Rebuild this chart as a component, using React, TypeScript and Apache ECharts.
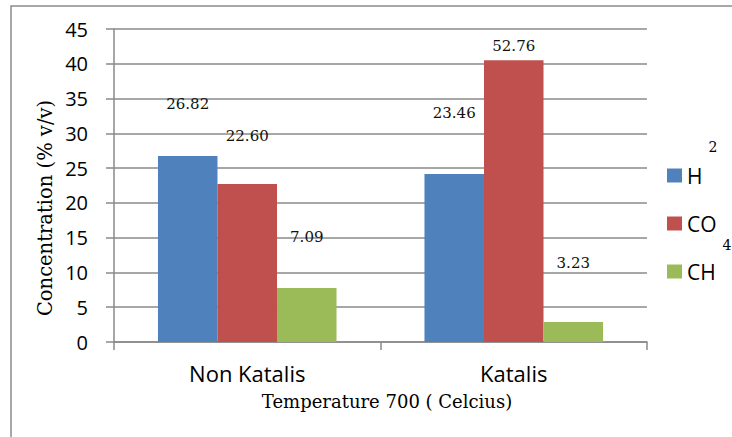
import React, { useEffect, useRef } from "react";
import * as echarts from "echarts";

const categories = ["Non Katalis", "Katalis"];
const seriesNames = ["H2", "CO", "CH4"];
const seriesColors = ["#4F81BD", "#C0504D", "#9BBB59"];

// bar heights
const h2Values = [26.74, 24.15];
const coValues = [22.7, 40.5];
const ch4Values = [7.76, 2.88];

// printed data labels and the level (in axis units) at which each sits
const h2Labels = ["26.82", "23.46"];
const coLabels = ["22.60", "52.76"];
const ch4Labels = ["7.09", "3.23"];
const h2LabelLevels = [34.2, 32.9];
const coLabelLevels = [29.6, 42.6];
const ch4LabelLevels = [15.1, 11.4];

const yMin = 0;
const yMax = 45;
const yInterval = 5;

const yTitle = "Concentration (% v/v)";
const xTitle = "Temperature 700 ( Celcius)";

const SERIF = "DejaVu Serif";
const SANS = "Open Sans";
const GRID_GRAY = "#8a8a8a";

export default function App() {
  const ref = useRef<HTMLDivElement>(null);

  useEffect(() => {
    if (!ref.current) return;
    const chart = echarts.init(ref.current, undefined, { renderer: "svg" });

    const values = [h2Values, coValues, ch4Values];
    const labels = [h2Labels, coLabels, ch4Labels];
    const levels = [h2LabelLevels, coLabelLevels, ch4LabelLevels];

    const series = seriesNames.map((name, si) => ({
      name,
      type: "bar",
      data: values[si],
      barGap: "0%",
      barCategoryGap: "33%",
      itemStyle: { color: seriesColors[si] },
      markPoint: {
        symbol: "rect",
        symbolSize: 1,
        itemStyle: { color: "rgba(0,0,0,0)" },
        label: {
          show: true,
          position: "inside",
          formatter: "{b}",
          color: "#111",
          fontFamily: SERIF,
          fontSize: 15,
        },
        data: categories.map((c, ci) => ({
          name: labels[si][ci],
          coord: [c, levels[si][ci]],
        })),
      },
    }));

    chart.setOption({
      animation: false,
      backgroundColor: "#fff",
      grid: { left: 114, right: 85, top: 29, bottom: 95, containLabel: false },
      legend: {
        orient: "vertical",
        left: 667,
        top: 165,
        padding: 0,
        itemWidth: 15,
        itemHeight: 14,
        itemGap: 27,
        icon: "rect",
        data: seriesNames,
        formatter: (n: string) => n.replace(/\d/g, ""),
        textStyle: { fontFamily: SANS, fontSize: 21, color: "#000" },
      },
      xAxis: {
        type: "category",
        data: categories,
        axisLine: { lineStyle: { color: GRID_GRAY, width: 1.5 } },
        axisTick: { show: true, length: 8, lineStyle: { color: GRID_GRAY, width: 1.5 } },
        axisLabel: { fontFamily: SANS, fontSize: 22, color: "#000", margin: 20 },
        splitLine: { show: false },
      },
      yAxis: {
        type: "value",
        min: yMin,
        max: yMax,
        interval: yInterval,
        axisLine: { show: true, lineStyle: { color: GRID_GRAY, width: 1.5 } },
        axisTick: { show: true, length: 8, lineStyle: { color: GRID_GRAY, width: 1.5 } },
        axisLabel: { fontFamily: SANS, fontSize: 20, color: "#000", margin: 26 },
        splitLine: { show: true, lineStyle: { color: GRID_GRAY, width: 1.5 } },
      },
      series,
      graphic: [
        {
          type: "rect",
          shape: { x: 11, y: 6, width: 800, height: 500 },
          style: { fill: "none", stroke: "#8c8c8c", lineWidth: 1.5 },
          silent: true,
        },
        {
          type: "text",
          x: 45,
          y: 208,
          rotation: Math.PI / 2,
          style: {
            text: yTitle,
            fontFamily: SERIF,
            fontSize: 19.5,
            fill: "#000",
            textAlign: "center",
            textVerticalAlign: "middle",
          },
        },
        {
          type: "text",
          x: 387,
          y: 401,
          style: {
            text: xTitle,
            fontFamily: SERIF,
            fontSize: 18,
            fill: "#000",
            textAlign: "center",
            textVerticalAlign: "middle",
          },
        },
        {
          type: "text",
          x: 713,
          y: 147,
          style: {
            text: "2",
            fontFamily: SERIF,
            fontSize: 14,
            fill: "#000",
            textAlign: "center",
            textVerticalAlign: "middle",
          },
        },
        {
          type: "text",
          x: 727,
          y: 245,
          style: {
            text: "4",
            fontFamily: SERIF,
            fontSize: 14,
            fill: "#000",
            textAlign: "center",
            textVerticalAlign: "middle",
          },
        },
      ],
    });

    return () => chart.dispose();
  }, []);

  return (
    <div
      ref={ref}
      style={{ position: "fixed", left: 0, top: 0, width: 732, height: 437, background: "#fff" }}
    />
  );
}
